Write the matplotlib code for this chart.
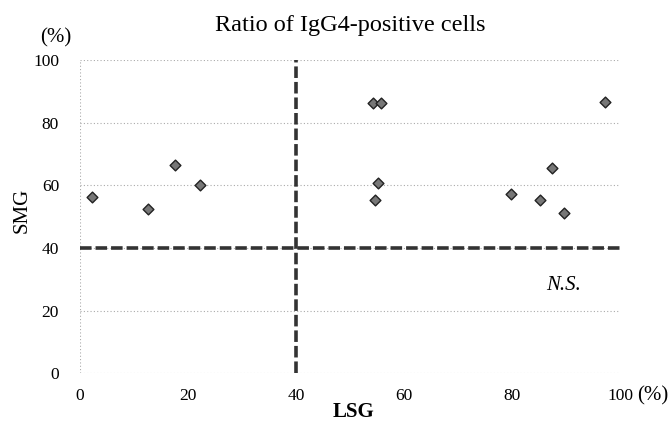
import numpy as np
import matplotlib.pyplot as plt

plt.rcParams['font.family'] = ['Liberation Serif', 'DejaVu Serif']

# LSG vs SMG ratio (%)
lsg = [2.2, 12.6, 17.6, 22.2, 54.3, 55.7, 55.2, 54.6, 79.9, 85.1, 87.5, 89.6, 97.2]
smg = [56.2, 52.4, 66.4, 60.1, 86.4, 86.4, 60.8, 55.3, 57.2, 55.3, 65.6, 51.0, 86.7]
ticks = [0, 20, 40, 60, 80, 100]
cutoff = 40

fig = plt.figure(figsize=(6.71, 4.26), dpi=100)
ax = fig.add_axes([0.119, 0.124, 0.805, 0.735])

# dotted grid
for t in ticks:
    ax.plot([0, 100], [t, t], color='#aaaaaa', lw=0.8, ls=(0, (1, 2)), zorder=1)
ax.plot([0, 0], [0, 100], color='#aaaaaa', lw=0.8, ls=(0, (1, 2)), zorder=1)

# cutoff lines
ax.plot([cutoff, cutoff], [0, 100], color='#333333', lw=2.6, ls=(0, (3.2, 1.1)), zorder=2)
ax.plot([0, 101.5], [cutoff, cutoff], color='#333333', lw=2.6, ls=(0, (3.2, 1.1)), zorder=2)

ax.scatter(lsg, smg, marker='D', s=30, c='#777777', edgecolors='#222222', linewidths=1.0, zorder=3)

ax.set_xlim(0, 100)
ax.set_ylim(0, 100)
ax.set_xticks(ticks)
ax.set_yticks(ticks)
for s in ax.spines.values():
    s.set_visible(False)
ax.tick_params(length=0, labelsize=12.5, pad=11)
ax.tick_params(axis='y', pad=15)

ax.text(89.5, 28, 'N.S.', style='italic', fontsize=15, ha='center', va='center')

fig.text(0.522, 0.94, 'Ratio of IgG4-positive cells', ha='center', va='center', fontsize=17.5)
fig.text(0.083, 0.91, '(%)', ha='center', va='center', fontsize=15)
fig.text(0.973, 0.07, '(%)', ha='center', va='center', fontsize=15)
fig.text(0.527, 0.032, 'LSG', ha='center', va='center', fontsize=15, fontweight='bold')
fig.text(0.033, 0.505, 'SMG', ha='center', va='center', fontsize=15, rotation=90)

fig.savefig('out.png', dpi=100)
